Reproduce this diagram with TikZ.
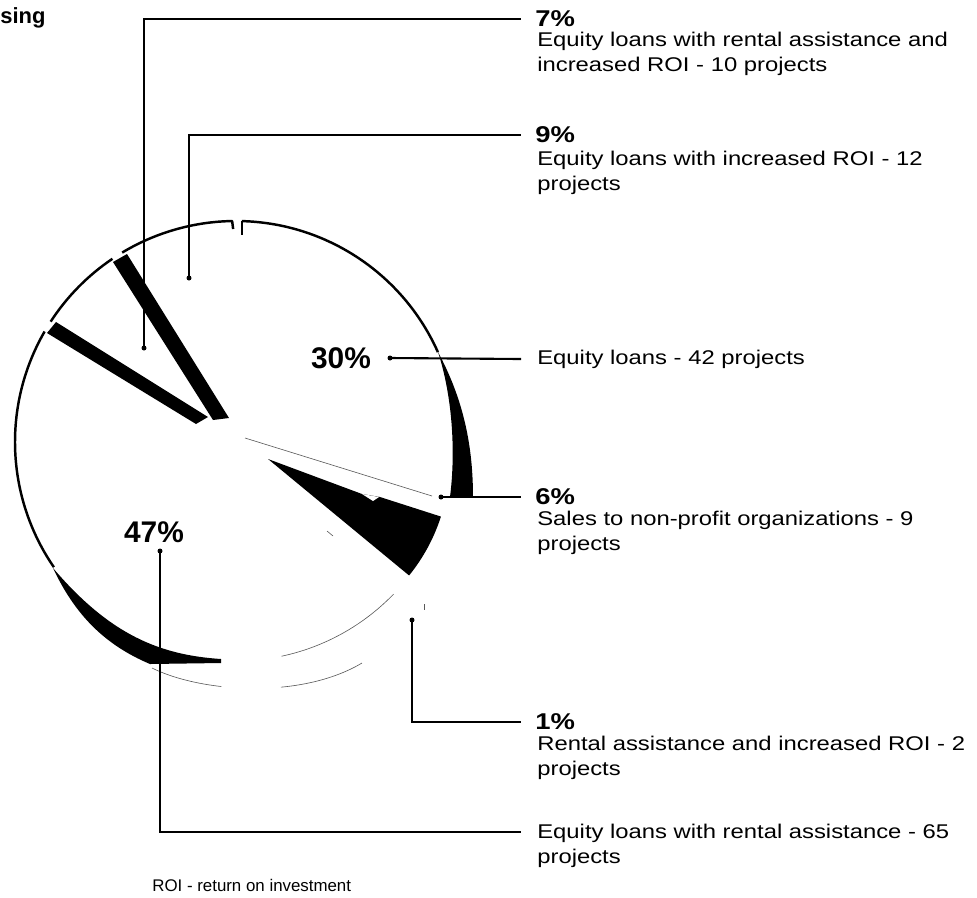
\documentclass[tikz,border=0pt]{standalone}
\usepackage{fontspec}
\setmainfont{Liberation Sans}
\newfontfamily\widesf{Liberation Sans}[FakeStretch=1.2]

\begin{document}
\begin{tikzpicture}[x=0.02cm, y=-0.02cm, rim/.style={line width=1.4pt, line join=round}, wall/.style={fill=black}, faint/.style={line width=0.35pt, black!65}, leader/.style={line width=1.2pt}, pct/.style={font=\widesf\fontsize{13}{15}\selectfont\bfseries, anchor=west, inner xsep=8pt, inner ysep=0pt}, desc/.style={font=\widesf\fontsize{11.3}{14.2}\selectfont, align=left, inner sep=0pt}, inpct/.style={font=\fontsize{17}{20}\selectfont\bfseries, inner sep=0pt}]
\useasboundingbox (0,0) rectangle (977,897);
\coordinate (O) at (236,442);
\coordinate (A6) at (268,459);
\draw [rim] (O) ++(-88.5:221) arc (-88.5:-24:221);
\draw [rim] (O) ++(-88.5:221) -- ++(0,14);
\draw [rim] (O) ++(-121:221) arc (-121:-91:221) -- ++(1,8);
\draw [rim] (O) ++(-147:221) arc (-147:-124:221);
\draw [rim] (O) ++(-150:221) arc (-150:-214.5:221);
\fill [wall] (438,352) .. controls (461,395) and (473,440) .. (473,497) -- (450,497) .. controls (456,450) and (452,395) .. (438,352) -- cycle;
\fill [wall] (113,262) -- (127,254) -- (229,418) -- (213,420) -- cycle;
\fill [wall] (56,322) -- (208,417) -- (196,424) -- (47,333) -- cycle;
\fill [wall] (53,568) .. controls (75,615) and (105,645) .. (150,664) -- (221,663) -- (221,659) .. controls (160,655) and (110,635) .. (53,568) -- cycle;
\fill [wall] (A6) -- (362,494) -- (380,497) -- ++(17.8:64) arc (17.8:39:182) -- cycle;
\fill [white] (362,494) -- (379,497) -- (373,501) -- cycle;
\draw [faint] (245,438) -- (432,496);
\draw [faint] (O) ++(78:219) arc (78:44:219);
\draw [faint, dash pattern=on 41pt off 34pt on 60pt off 10pt] (152,668) .. controls (200,692) and (300,700) .. (362,663);
\draw [faint] (327,531) -- (333,536);
\draw [faint] (424,604) -- (424,610);
\node [inpct] (l30) at (341,358) {30\%};
\node [inpct] (l47) at (154,532) {47\%};
\node [font=\fontsize{12.5}{15}\selectfont\bfseries, anchor=west, inner sep=0pt] (ttl) at (0,18) {sing};
\node [pct] (p7) at (521,19) {7\%};
\node [desc, anchor=north west] (d7) at (537,32) {Equity loans with rental assistance and\\increased ROI - 10 projects};
\node [pct] (p9) at (521,135) {9\%};
\node [desc, anchor=north west] (d9) at (537,151) {Equity loans with increased ROI - 12\\projects};
\node [desc, anchor=west] (d30) at (537,359) {Equity loans - 42 projects};
\node [pct] (p6) at (521,497) {6\%};
\node [desc, anchor=north west] (d6) at (537,511) {Sales to non-profit organizations - 9\\projects};
\node [pct] (p1) at (521,722) {1\%};
\node [desc, anchor=north west] (d1) at (537,736) {Rental assistance and increased ROI - 2\\projects};
\node [desc, anchor=north west] (d65) at (537,824) {Equity loans with rental assistance - 65\\projects};
\node [font=\fontsize{9.6}{12}\selectfont, anchor=west, inner sep=0pt] (roi) at (152,885) {ROI - return on investment};
\coordinate (dot7) at (144,348);
\coordinate (dot9) at (189,278);
\coordinate (dot30) at (390,358);
\coordinate (dot6) at (441,497);
\coordinate (dot1) at (412,620);
\coordinate (dot47) at (160,551);
\foreach \d in {dot7,dot9,dot30,dot6,dot1,dot47}
  \fill (\d) circle (2.5);
\draw [leader] (dot7) |- (p7.west);
\draw [leader] (dot9) |- (p9.west);
\draw [leader] (dot30) -- ([xshift=-9pt]d30.west);
\draw [leader] (dot6) |- (p6.west);
\draw [leader] (dot1) |- (p1.west);
\draw [leader] (dot47) |- ([xshift=-9pt,yshift=-4.3pt]d65.north west);
\end{tikzpicture}
\end{document}
